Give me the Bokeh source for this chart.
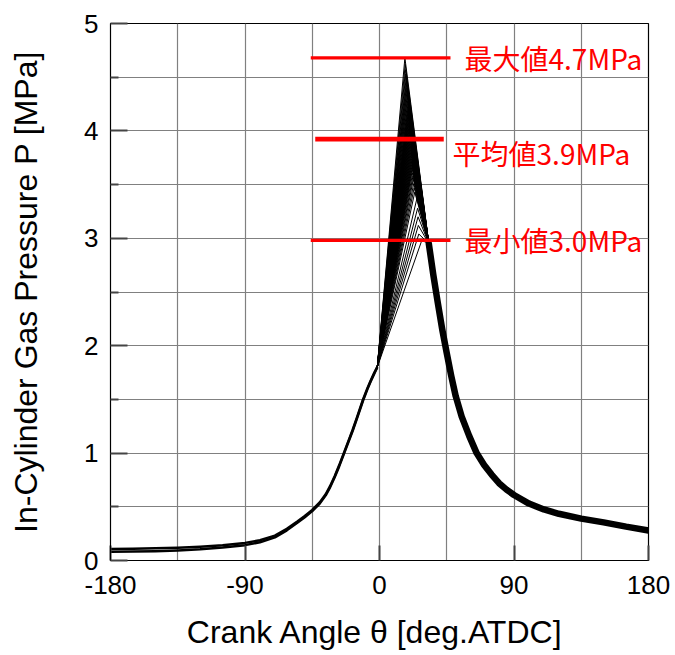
import numpy as np
from bokeh.plotting import figure
from bokeh.models import FixedTicker, Label, Range1d
from bokeh.embed import file_html
from bokeh.resources import INLINE

# ---- axis ticks ----
x_major = [-180, -90, 0, 90, 180]
x_minor = [-135, -45, 45, 135]
y_major = [0, 1, 2, 3, 4, 5]
y_minor = [0.5, 1.5, 2.5, 3.5, 4.5]

# ---- compression stroke (common to all cycles), crank angle [deg] / pressure [MPa] ----
comp_theta = [-180, -165, -150, -135, -120, -105, -90, -80, -70, -62, -55, -50, -45, -40,
              -36, -33, -30, -27, -24, -21, -18, -15, -11, -8, -6, -3.5, -1.5]
comp_p_low = [0.082, 0.084, 0.087, 0.094, 0.105, 0.121, 0.143, 0.169, 0.215, 0.281, 0.351,
              0.403, 0.460, 0.530, 0.607, 0.684, 0.775, 0.876, 0.986, 1.096, 1.206, 1.326,
              1.490, 1.598, 1.664, 1.740, 1.80]
comp_p_high = [0.108, 0.110, 0.113, 0.119, 0.129, 0.143, 0.164, 0.188, 0.232, 0.296, 0.364,
               0.415, 0.471, 0.540, 0.617, 0.694, 0.785, 0.886, 0.995, 1.105, 1.215, 1.335,
               1.499, 1.607, 1.672, 1.748, 1.80]

# ---- expansion stroke (cycles merge into one band) ----
exp_theta = [33, 36, 39, 42, 45, 48, 51, 55, 60, 65, 70, 75, 80, 85, 90, 100, 110, 120,
             135, 150, 165, 180]
exp_p = [2.95, 2.66, 2.40, 2.15, 1.93, 1.72, 1.53, 1.34, 1.16, 1.00, 0.89, 0.80, 0.72,
         0.66, 0.61, 0.53, 0.475, 0.435, 0.39, 0.355, 0.315, 0.28]

# ---- combustion: peak pressure [MPa] and its crank angle [deg] for each cycle ----
peak_p = [4.68, 4.62, 4.57, 4.53, 4.49, 4.46, 4.43, 4.40, 4.37, 4.34, 4.31, 4.28, 4.25,
          4.22, 4.20, 4.18, 4.16, 4.14, 4.12, 4.10, 4.08, 4.06, 4.04, 4.02, 4.00, 3.98, 3.96,
          3.94, 3.92, 3.90, 3.88, 3.86, 3.84, 3.82, 3.80, 3.78, 3.76, 3.74, 3.72, 3.70, 3.68,
          3.66, 3.64, 3.61, 3.58, 3.55, 3.51, 3.47, 3.43, 3.38, 3.28, 3.20, 3.12, 3.04, 2.98]
peak_theta = [17.0, 17.2, 17.4, 17.6, 17.8, 18.0, 18.1, 18.3, 18.4, 18.6, 18.7, 18.9, 19.0,
              19.1, 19.2, 19.3, 19.4, 19.5, 19.6, 19.7, 19.8, 19.9, 20.0, 20.1, 20.2, 20.3, 20.4,
              20.5, 20.6, 20.7, 20.8, 20.9, 21.0, 21.1, 21.2, 21.3, 21.4, 21.5, 21.6, 21.7, 21.8,
              21.9, 22.0, 22.2, 22.4, 22.6, 22.9, 23.2, 23.6, 25.2, 25.5, 25.8, 26.0, 26.3, 28.3]

p_max = max(peak_p)
p_mean = float(np.mean(peak_p))
p_min = min(peak_p)

p = figure(width=675, height=655, x_range=Range1d(-180, 180), y_range=Range1d(0, 5),
           output_backend="svg", toolbar_location=None,
           min_border_left=110, min_border_right=27, min_border_top=23, min_border_bottom=95)
p.background_fill_color = "white"
p.border_fill_color = "white"
p.outline_line_color = "black"
p.outline_line_width = 1.2

p.xaxis.ticker = FixedTicker(ticks=x_major, minor_ticks=x_minor)
p.yaxis.ticker = FixedTicker(ticks=y_major, minor_ticks=y_minor)
p.xaxis.major_label_overrides = {v: str(v) for v in x_major}
p.xaxis.axis_label = "Crank Angle θ  [deg.ATDC]"
p.yaxis.axis_label = "In-Cylinder Gas Pressure P [MPa]"
for ax in (p.xaxis, p.yaxis):
    ax.axis_line_color = "black"
    ax.major_tick_out = 0
    ax.minor_tick_out = 0
    ax.major_tick_line_color = "#444444"
    ax.minor_tick_line_color = "#444444"
    ax.major_tick_line_width = 2
    ax.minor_tick_line_width = 2
    ax.major_label_text_font = "Liberation Sans"
    ax.major_label_text_font_size = "26px"
    ax.major_label_text_color = "black"
    ax.axis_label_text_font = "Liberation Sans"
    ax.axis_label_text_font_size = "32px"
    ax.axis_label_text_font_style = "normal"
    ax.axis_label_text_color = "black"
p.xaxis.major_tick_in = 15
p.xaxis.minor_tick_in = 0
p.yaxis.major_tick_in = 17
p.yaxis.minor_tick_in = 8
p.xaxis.major_label_standoff = 15
p.yaxis.major_label_standoff = 12
p.xaxis.axis_label_standoff = 17
p.yaxis.axis_label_standoff = 37

for g in (p.xgrid, p.ygrid):
    g.grid_line_color = "#808080"
    g.grid_line_width = 1.2
    g.minor_grid_line_color = "#808080"
    g.minor_grid_line_width = 1.2

# compression band
p.line(comp_theta, comp_p_low, line_color="black", line_width=2.5, line_join="round")
p.line(comp_theta, comp_p_high, line_color="black", line_width=2.5, line_join="round")

# individual combustion cycles: start of combustion -> peak -> merge into expansion
start = (comp_theta[-1], comp_p_low[-1])
join = (exp_theta[0], exp_p[0])
xs = [[start[0], th, join[0]] for th in peak_theta]
ys = [[start[1], pk, join[1]] for pk in peak_p]
p.multi_line(xs, ys, line_color="black", line_width=1.0)

# expansion band
p.line(exp_theta, exp_p, line_color="black", line_width=6.5, line_join="round",
       line_cap="round")

# statistics markers
p.segment(x0=[-46, -43, -46], y0=[p_max, p_mean, p_min],
          x1=[47.5, 43, 47.5], y1=[p_max, p_mean, p_min],
          line_color="#ff0000", line_width=[3.2, 4.6, 3.2])

lab_kw = dict(text_color="#ff0000", text_font="Noto Sans CJK JP",
              text_font_size="28px", text_baseline="middle", text_align="left")
p.add_layout(Label(x=56.9, y=p_max, text=f"最大値{p_max:.1f}MPa", **lab_kw))
p.add_layout(Label(x=48.9, y=p_mean - 0.125, text=f"平均値{p_mean:.1f}MPa", **lab_kw))
p.add_layout(Label(x=56.9, y=p_min, text=f"最小値{p_min:.1f}MPa", **lab_kw))

open("out.html", "w").write(file_html(p, INLINE))
